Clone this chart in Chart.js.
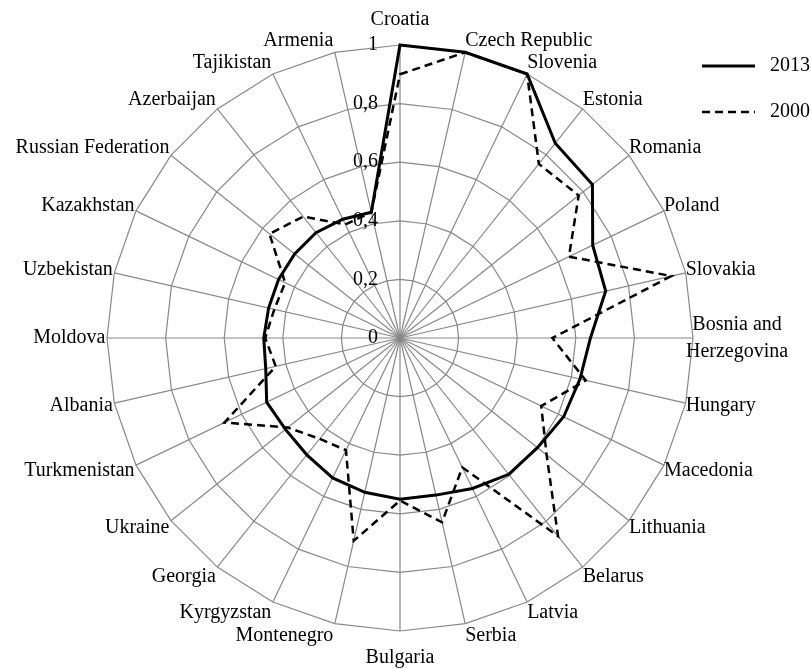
<!DOCTYPE html>
<html>
<head>
<meta charset="utf-8">
<script src="https://cdn.jsdelivr.net/npm/chart.js@4.4.1/dist/chart.umd.min.js"></script>
<style>
html,body{margin:0;padding:0;background:#fff;}
#wrap{width:811px;height:669px;}
canvas{display:block;}
</style>
</head>
<body>
<div id="wrap"><canvas id="c" width="811" height="669"></canvas></div>
<script>
const categories = [
  'Croatia', 'Czech Republic', 'Slovenia', 'Estonia', 'Romania', 'Poland', 'Slovakia',
  ['Bosnia and', 'Herzegovina'], 'Hungary', 'Macedonia', 'Lithuania', 'Belarus', 'Latvia',
  'Serbia', 'Bulgaria', 'Montenegro', 'Kyrgyzstan', 'Georgia', 'Ukraine', 'Turkmenistan',
  'Albania', 'Moldova', 'Uzbekistan', 'Kazakhstan', 'Russian Federation', 'Azerbaijan',
  'Tajikistan', 'Armenia'
];
const values2013 = [
  1.00, 1.00, 1.00, 0.85, 0.84, 0.73, 0.72,
  0.65, 0.63, 0.62, 0.60, 0.595, 0.57,
  0.55, 0.55, 0.54, 0.53, 0.51, 0.50, 0.505,
  0.47, 0.465, 0.46, 0.46, 0.46, 0.46,
  0.45, 0.44
];
const values2000 = [
  0.90, 1.00, 1.00, 0.76, 0.78, 0.64, 0.95,
  0.52, 0.65, 0.535, 0.64, 0.865, 0.49,
  0.645, 0.555, 0.71, 0.425, 0.44, 0.49, 0.665,
  0.435, 0.46, 0.44, 0.435, 0.57, 0.53,
  0.43, 0.44
];
const seriesNames = ['2013', '2000'];
const tickLabels = ['0', '0,2', '0,4', '0,6', '0,8', '1'];

const FONT = '20px "Liberation Serif", "Times New Roman", serif';
const GRID = '#888888';

const textPlugin = {
  id: 'textPlugin',
  afterDraw(chart) {
    const s = chart.scales.r;
    const ctx = chart.ctx;
    ctx.save();
    ctx.font = FONT;
    ctx.fillStyle = '#000';
    ctx.textBaseline = 'middle';
    // tick labels
    ctx.textAlign = 'right';
    s.ticks.forEach((t, i) => {
      const d = s.getDistanceFromCenterForValue(t.value);
      if (tickLabels[i] !== undefined) ctx.fillText(tickLabels[i], s.xCenter - 22, s.yCenter - d);
    });
    // point labels
    const n = categories.length;
    for (let i = 0; i < n; i++) {
      const p = s.getPointPosition(i, s.drawingArea);
      const deg = i * 360 / n;
      const rad = deg * Math.PI / 180;
      const lines = [].concat(categories[i]);
      if (lines.length > 1) {
        const maxW = Math.max(...lines.map(l => ctx.measureText(l).width));
        ctx.textAlign = 'center';
        const cx = p.x - 7 + maxW / 2;
        const lh = 27;
        const y0 = p.y - 12 * Math.cos(rad) - lh * (lines.length - 1) / 2;
        lines.forEach((l, k) => ctx.fillText(l, cx, y0 + k * lh));
        continue;
      }
      let x = p.x, y;
      if (deg === 0) { ctx.textAlign = 'center'; y = p.y - 25; }
      else if (deg === 180) { ctx.textAlign = 'center'; y = p.y + 27; }
      else if (deg < 180) { ctx.textAlign = 'left'; y = p.y - 12 * Math.cos(rad); }
      else { ctx.textAlign = 'right'; x = p.x - 1.5; y = p.y - 12 * Math.cos(rad); }
      ctx.fillText(lines[0], x, y);
    }
    // legend
    const legY = [66, 112];
    chart.data.datasets.forEach((ds, k) => {
      ctx.beginPath();
      ctx.strokeStyle = ds.borderColor;
      ctx.lineWidth = ds.borderWidth;
      ctx.setLineDash(ds.borderDash || []);
      ctx.moveTo(702, legY[k]);
      ctx.lineTo(755, legY[k]);
      ctx.stroke();
      ctx.setLineDash([]);
      ctx.textAlign = 'left';
      ctx.fillText(ds.label, 770, legY[k]);
    });
    ctx.restore();
  }
};

new Chart(document.getElementById('c'), {
  type: 'radar',
  data: {
    labels: categories,
    datasets: [
      {
        label: seriesNames[0],
        data: values2013,
        borderColor: '#000',
        borderWidth: 3,
        fill: false,
        pointRadius: 0,
        tension: 0
      },
      {
        label: seriesNames[1],
        data: values2000,
        borderColor: '#000',
        borderWidth: 2.5,
        borderDash: [8, 5],
        fill: false,
        pointRadius: 0,
        tension: 0
      }
    ]
  },
  options: {
    responsive: false,
    animation: false,
    devicePixelRatio: 1,
    layout: { padding: { left: 0, right: 11, top: 45, bottom: 38 } },
    plugins: { legend: { display: false }, tooltip: { enabled: false } },
    scales: {
      r: {
        min: 0,
        max: 1,
        beginAtZero: true,
        ticks: { stepSize: 0.2, display: false },
        pointLabels: { display: false },
        grid: { color: GRID, lineWidth: 1.2 },
        angleLines: { color: GRID, lineWidth: 1.2 }
      }
    }
  },
  plugins: [textPlugin]
});
</script>
</body>
</html>
